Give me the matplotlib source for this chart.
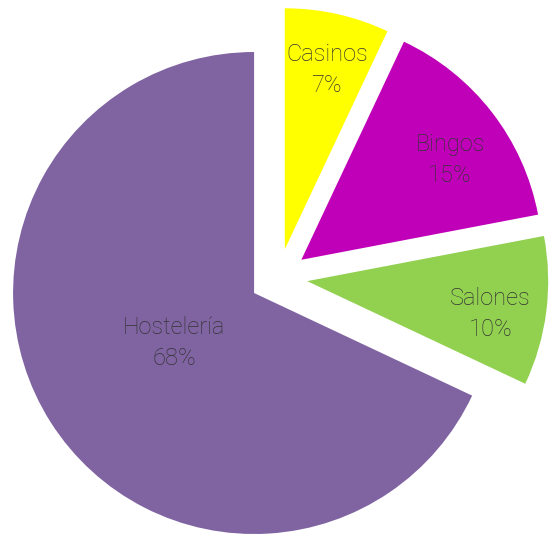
import numpy as np
import matplotlib.pyplot as plt

labels = ["Casinos", "Bingos", "Salones", "Hostelería"]
shares = [7, 15, 10, 68]
colors = ["#FFFF00", "#C000B8", "#92D050", "#8064A2"]
explode = [0.12, 0.12, 0.12, 0.12]
label_dist = [0.775, 0.75, 0.77, 0.385]
label_turn = [-0.4, -3.1, -2.1, -1.8]

fig = plt.figure(figsize=(5.57, 5.42), dpi=100)
ax = fig.add_axes([0, 0, 1, 1])

wedges, _ = ax.pie(shares, colors=colors, explode=explode, startangle=90,
                   counterclock=False, radius=1,
                   wedgeprops={"linewidth": 0})

for w, lab, val, d, t in zip(wedges, labels, shares, label_dist, label_turn):
    ang = np.deg2rad((w.theta1 + w.theta2) / 2 + t)
    cx, cy = w.center
    ax.annotate(f"{lab}\n{val}%", (cx + d * np.cos(ang), cy + d * np.sin(ang)),
                xytext=(0, -2.2), textcoords="offset points",
                ha="center", va="center", fontsize=17, color="#333333",
                family="Roboto", fontweight="light", linespacing=1.45)

ax.set_xlim(-1.1556, 1.1556)
ax.set_ylim(-1.0975, 1.1515)
ax.set_aspect("auto")
ax.axis("off")

fig.savefig("out.png", dpi=100)
